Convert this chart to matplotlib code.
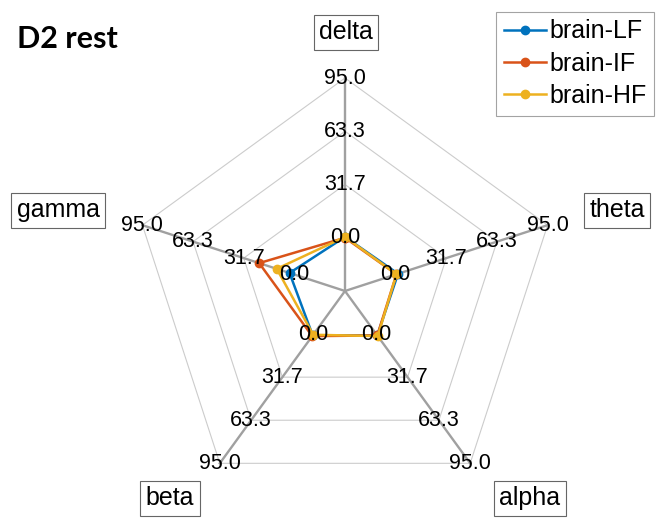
import numpy as np
import matplotlib.pyplot as plt

# spider plot, D2 rest
categories = ['delta', 'theta', 'alpha', 'beta', 'gamma']
series_names = ['brain-LF', 'brain-IF', 'brain-HF']
lf_vals = [0.5, 1.5, 1.0, 1.0, 3.0]
if_vals = [0.0, 0.5, 1.0, 1.5, 22.0]
hf_vals = [0.5, 0.5, 1.5, 0.5, 11.0]
ax_min, ax_max = 0.0, 95.0

colors = ['#0072BD', '#D95319', '#EDB120']
txtfont = ['Liberation Sans', 'DejaVu Sans']

W, H = 657, 518
cx, cy, R = 345, 291, 213   # centre and radius in pixels

fig = plt.figure(figsize=(W/100, H/100), dpi=100)
ax = fig.add_axes([0, 0, 1, 1])
ax.set_xlim(-cx/R, (W-cx)/R)
ax.set_ylim(-(H-cy)/R, cy/R)
ax.axis('off')

def px(x, y):
    # pixel position -> data coords
    return (x - cx)/R, (cy - y)/R

n = len(categories)
ang = np.deg2rad(90 - 72*np.arange(n))
levels = np.linspace(ax_min, ax_max, 4)
ring_r = np.linspace(0.25, 1.0, 4)

def to_r(v):
    return 0.25 + 0.75*(np.asarray(v) - ax_min)/(ax_max - ax_min)

# web rings
for rr in ring_r[1:]:
    xs = rr*np.cos(np.append(ang, ang[0]))
    ys = rr*np.sin(np.append(ang, ang[0]))
    ax.plot(xs, ys, color='#cccccc', lw=0.8, zorder=1)

# spokes
for a in ang:
    ax.plot([0, np.cos(a)], [0, np.sin(a)], color='#a0a0a0', lw=1.7, zorder=2)

# data
for name, vals, c in zip(series_names, [lf_vals, if_vals, hf_vals], colors):
    r = to_r(vals)
    xs = np.append(r*np.cos(ang), r[0]*np.cos(ang[0]))
    ys = np.append(r*np.sin(ang), r[0]*np.sin(ang[0]))
    ax.plot(xs, ys, '-o', color=c, lw=1.8, ms=6, label=name, zorder=3)

# value labels on axes
for a in ang:
    for lv, rr in zip(levels, ring_r):
        ax.text(rr*np.cos(a), rr*np.sin(a), '%.1f' % lv, ha='center', va='center',
                fontsize=15.5, family=txtfont, zorder=5)

# axis labels in boxes (pixel centres)
lab_px = [(346, 32), (617, 210), (530, 498), (170, 498), (58, 210)]
for name, (bx, by) in zip(categories, lab_px):
    ax.text(*px(bx, by), name, ha='center', va='center', fontsize=18, family=txtfont,
            bbox=dict(boxstyle='square,pad=0.22', fc='white', ec='#666666', lw=0.8))

fig.text(17/W, 1 - 39/H, 'D2 rest', fontsize=22, fontweight='bold', family=['Lato', 'DejaVu Sans'],
         ha='left', va='center')

leg = ax.legend(loc='upper right', bbox_to_anchor=(654/W, 1 - 12/H), fancybox=False,
                edgecolor='#8c8c8c', prop={'family': txtfont, 'size': 18},
                handlelength=1.7, handletextpad=0.12, borderpad=0.3, labelspacing=0.33,
                borderaxespad=0)
leg.get_frame().set_linewidth(0.8)

fig.savefig('out.png', dpi=100)
